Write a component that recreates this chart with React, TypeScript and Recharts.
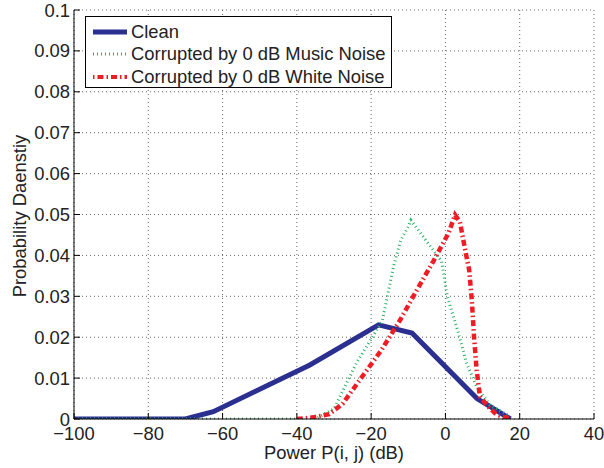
import { CartesianGrid, Line, LineChart, XAxis, YAxis } from 'recharts'

const X_TICKS = [-100, -80, -60, -40, -20, 0, 20, 40]
const Y_TICKS = [0, 0.01, 0.02, 0.03, 0.04, 0.05, 0.06, 0.07, 0.08, 0.09, 0.1]

const CLEAN_X = [-100, -70, -62.5, -45, -36.5, -18, -9, 8.5, 17.5]
const CLEAN_Y = [0, 0, 0.0018, 0.0095, 0.0132, 0.023, 0.021, 0.005, 0]

const MUSIC_X = [-100, -35, -30, -24, -17, -14, -12, -10, -9.3, -6, -1, 0.5, 3.5, 5.7, 8.4, 12, 17.4]
const MUSIC_Y = [0, 0, 0.0025, 0.0136, 0.024, 0.0372, 0.0438, 0.047, 0.0486, 0.0446, 0.0385, 0.03, 0.021, 0.0136, 0.0079, 0.0034, 0.0006]

const WHITE_X = [-40, -35.5, -31.3, -27.7, -17.2, -12.2, -7.7, -3.3, 0.8, 2.6, 3.9, 5.5, 6.4, 7.1, 7.7, 8.4, 9.3, 11.1, 13.8, 17.8]
const WHITE_Y = [0, 0.0004, 0.0012, 0.0037, 0.0169, 0.0242, 0.0315, 0.0385, 0.0454, 0.0499, 0.0482, 0.0405, 0.0364, 0.0291, 0.0201, 0.012, 0.0055, 0.0034, 0.001, 0]

const SERIES_NAMES = ['Clean', 'Corrupted by 0 dB Music Noise', 'Corrupted by 0 dB White Noise']

const BLUE = '#2b2f8f'
const GREEN = '#29b364'
const RED = '#ee1c25'
const FONT = '"Liberation Sans", Arial, Helvetica, sans-serif'
const FS = 18.4

const toPoints = (xs: number[], ys: number[]) => xs.map((x, i) => ({ x, y: ys[i] }))

const fmtX = (v: number) => (v < 0 ? `\u2212${Math.abs(v)}` : `${v}`)

const BottomTick = ({ x, y, payload }: any) => (
  <g>
    <line x1={x} y1={y} x2={x} y2={y - 6} stroke="#000" />
    <text x={x} y={y + 21} textAnchor="middle" fontSize={FS} fill="#222" fontFamily={FONT}>
      {fmtX(payload.value)}
    </text>
  </g>
)

const TopTick = ({ x, y }: any) => <line x1={x} y1={y} x2={x} y2={y + 6} stroke="#000" />

const LeftTick = ({ x, y, payload }: any) => (
  <g>
    <line x1={x} y1={y} x2={x + 6} y2={y} stroke="#000" />
    <text x={x - 4} y={y + 6.5} textAnchor="end" fontSize={FS} fill="#222" fontFamily={FONT}>
      {String(payload.value)}
    </text>
  </g>
)

const RightTick = ({ x, y }: any) => <line x1={x} y1={y} x2={x - 6} y2={y} stroke="#000" />

function LegendBox() {
  const samples = [
    <line x1={1} y1={6} x2={35} y2={6} stroke={BLUE} strokeWidth={5} />,
    <line x1={1} y1={6} x2={35} y2={6} stroke={GREEN} strokeWidth={3} strokeDasharray="1 3" />,
    <line x1={1} y1={6} x2={35} y2={6} stroke={RED} strokeWidth={4} strokeDasharray="1.5 3 6 3" />,
  ]
  return (
    <div
      style={{
        position: 'absolute',
        left: 85,
        top: 16,
        width: 305,
        height: 70,
        border: '1px solid #000',
        background: '#fff',
        fontFamily: FONT,
        fontSize: FS,
        color: '#222',
        boxSizing: 'content-box',
      }}
    >
      {SERIES_NAMES.map((name, i) => (
        <div
          key={name}
          style={{ position: 'absolute', left: 6, top: 4 + i * 22.3, height: 22, display: 'flex', alignItems: 'center' }}
        >
          <svg width={38} height={12} style={{ display: 'block' }}>
            {samples[i]}
          </svg>
          <span style={{ marginLeft: 1, lineHeight: '22px', whiteSpace: 'nowrap' }}>{name}</span>
        </div>
      ))}
    </div>
  )
}

export default function App() {
  return (
    <div style={{ position: 'absolute', left: 0, top: 0, width: 604, height: 468, background: '#fff' }}>
      <LineChart width={604} height={468} margin={{ top: 10, right: 10, left: 0, bottom: 0 }}>
        <CartesianGrid stroke="#666" strokeDasharray="1 3" />
        <XAxis
          type="number"
          dataKey="x"
          domain={[-100, 40]}
          ticks={X_TICKS}
          allowDataOverflow
          height={49}
          tickSize={0}
          tickMargin={0}
          tickLine={false}
          axisLine={{ stroke: '#000' }}
          tick={<BottomTick />}
          interval={0}
        />
        <XAxis
          xAxisId="top"
          orientation="top"
          type="number"
          dataKey="x"
          domain={[-100, 40]}
          ticks={X_TICKS}
          allowDataOverflow
          height={0}
          tickSize={0}
          tickMargin={0}
          tickLine={false}
          axisLine={{ stroke: '#000' }}
          tick={<TopTick />}
          interval={0}
        />
        <YAxis
          type="number"
          domain={[0, 0.1]}
          ticks={Y_TICKS}
          allowDataOverflow
          width={74}
          tickSize={0}
          tickMargin={0}
          tickLine={false}
          axisLine={{ stroke: '#000' }}
          tick={<LeftTick />}
          interval={0}
        />
        <YAxis
          yAxisId="right"
          orientation="right"
          type="number"
          domain={[0, 0.1]}
          ticks={Y_TICKS}
          allowDataOverflow
          width={0}
          tickSize={0}
          tickMargin={0}
          tickLine={false}
          axisLine={{ stroke: '#000' }}
          tick={<RightTick />}
          interval={0}
        />
        <Line
          data={toPoints(CLEAN_X, CLEAN_Y)}
          dataKey="y"
          name={SERIES_NAMES[0]}
          type="linear"
          stroke={BLUE}
          strokeWidth={5}
          dot={false}
          isAnimationActive={false}
        />
        <Line
          data={toPoints(MUSIC_X, MUSIC_Y)}
          dataKey="y"
          name={SERIES_NAMES[1]}
          type="linear"
          stroke={GREEN}
          strokeWidth={3}
          strokeDasharray="1 3"
          dot={false}
          isAnimationActive={false}
        />
        <Line
          data={toPoints(WHITE_X, WHITE_Y)}
          dataKey="y"
          name={SERIES_NAMES[2]}
          type="linear"
          stroke={RED}
          strokeWidth={4.5}
          strokeDasharray="6 3 1.5 3"
          dot={false}
          isAnimationActive={false}
        />
      </LineChart>
      <div
        style={{
          position: 'absolute',
          left: 334,
          top: 442,
          transform: 'translateX(-50%)',
          fontFamily: FONT,
          fontSize: FS,
          color: '#222',
          whiteSpace: 'nowrap',
          lineHeight: '22px',
        }}
      >
        Power P(i, j) (dB)
      </div>
      <div
        style={{
          position: 'absolute',
          left: 20,
          top: 216,
          transform: 'translate(-50%, -50%) rotate(-90deg)',
          fontFamily: FONT,
          fontSize: FS,
          color: '#222',
          whiteSpace: 'nowrap',
          lineHeight: '22px',
        }}
      >
        Probability Daenstiy
      </div>
      <LegendBox />
    </div>
  )
}
